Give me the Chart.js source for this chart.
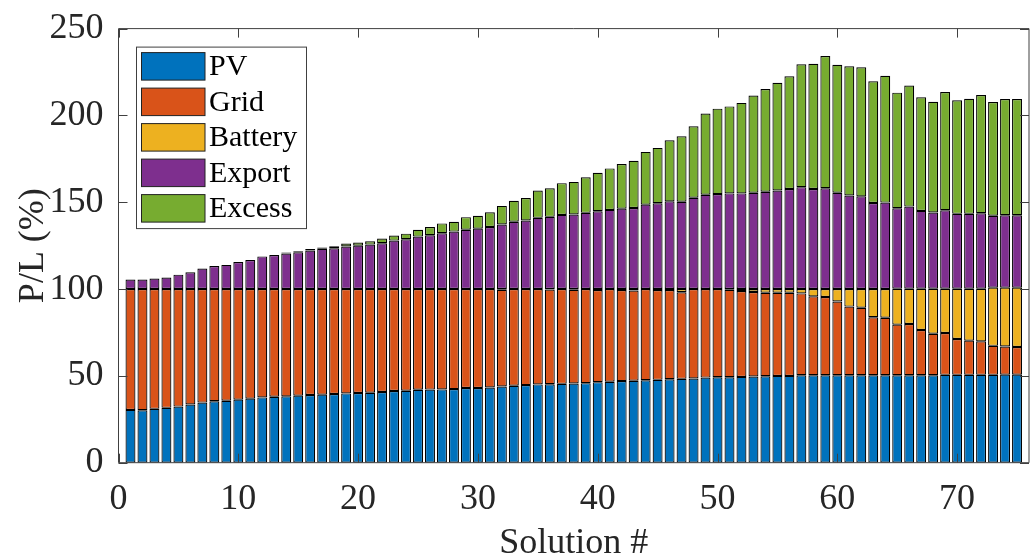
<!DOCTYPE html>
<html>
<head>
<meta charset="utf-8">
<script src="https://cdn.jsdelivr.net/npm/chart.js@4/dist/chart.umd.min.js"></script>
<style>
  html, body { margin: 0; padding: 0; background: #ffffff; }
  #wrap { width: 1032px; height: 556px; }
  canvas { display: block; }
</style>
</head>
<body>
<div id="wrap"><canvas id="chart" width="1032" height="556"></canvas></div>
<script>
// Solution index on the x axis
const solutions = [
  1, 2, 3, 4, 5, 6, 7, 8, 9, 10,
  11, 12, 13, 14, 15, 16, 17, 18, 19, 20,
  21, 22, 23, 24, 25, 26, 27, 28, 29, 30,
  31, 32, 33, 34, 35, 36, 37, 38, 39, 40,
  41, 42, 43, 44, 45, 46, 47, 48, 49, 50,
  51, 52, 53, 54, 55, 56, 57, 58, 59, 60,
  61, 62, 63, 64, 65, 66, 67, 68, 69, 70,
  71, 72, 73, 74, 75
];

// Power share relative to load (%), one value per solution
const pv = [
  30.4, 30.2, 31.0, 31.6, 32.3, 33.5, 34.6, 35.4, 35.7, 36.3,
  36.9, 37.6, 38.0, 38.2, 38.6, 39.0, 39.2, 39.6, 39.9, 40.1,
  40.3, 40.7, 41.3, 41.4, 42.0, 42.1, 42.2, 42.4, 43.0, 43.0,
  43.3, 43.9, 44.3, 44.7, 45.1, 45.2, 45.4, 45.6, 45.8, 46.4,
  46.6, 47.0, 47.2, 47.5, 47.7, 48.1, 48.3, 48.5, 49.0, 49.2,
  49.2, 49.4, 49.6, 49.8, 50.0, 50.0, 50.4, 50.4, 50.4, 50.4,
  50.4, 50.4, 50.4, 50.4, 50.4, 50.4, 50.4, 50.4, 50.6, 50.6,
  50.6, 50.6, 50.6, 50.7, 50.7
];
const grid = [
  69.6, 69.8, 69.0, 68.4, 67.7, 66.5, 65.4, 64.6, 64.3, 63.7,
  63.1, 62.4, 62.0, 61.8, 61.4, 61.0, 60.8, 60.4, 60.1, 59.9,
  59.7, 59.3, 58.7, 58.6, 58.0, 57.9, 57.8, 57.6, 57.0, 57.0,
  56.7, 55.7, 55.7, 55.3, 54.9, 54.5, 54.6, 54.0, 54.2, 53.1,
  53.4, 52.5, 52.0, 52.5, 51.7, 51.4, 49.9, 51.5, 51.0, 50.8,
  50.4, 49.5, 48.7, 48.1, 47.9, 47.9, 47.1, 45.4, 45.0, 42.4,
  39.5, 38.8, 33.4, 33.1, 29.1, 29.5, 26.0, 23.9, 24.1, 20.6,
  19.7, 19.3, 16.7, 16.2, 15.9
];
const battery = [
  0, 0, 0, 0, 0, 0, 0, 0, 0, 0,
  0, 0, 0, 0, 0, 0, 0, 0, 0, 0,
  0, 0, 0, 0, 0, 0, 0, 0, 0, 0,
  0, 0.4, 0, 0, 0, 0.3, 0, 0.4, 0, 0.5,
  0, 0.5, 0.8, 0, 0.6, 0.5, 1.8, 0, 0, 0,
  0.4, 1.1, 1.7, 2.1, 2.1, 2.1, 2.5, 4.2, 4.6, 7.2,
  10.1, 10.8, 16.2, 16.5, 20.7, 20.3, 23.8, 25.9, 25.5, 29.0,
  29.9, 30.3, 33.5, 33.9, 34.2
];
const exportShare = [
  5.5, 5.5, 6.1, 6.6, 8.3, 9.7, 11.8, 13.3, 13.9, 15.6,
  16.7, 18.8, 19.6, 20.5, 21.2, 22.2, 23.2, 23.5, 24.5, 25.0,
  25.6, 26.4, 27.9, 28.7, 30.2, 31.0, 32.1, 33.1, 34.2, 34.8,
  35.7, 37.2, 38.8, 39.5, 41.0, 41.6, 42.7, 42.9, 43.9, 44.8,
  45.6, 46.3, 46.7, 48.6, 49.4, 50.5, 50.3, 52.6, 54.3, 54.7,
  55.1, 55.1, 55.5, 56.0, 56.8, 57.6, 58.7, 57.6, 58.1, 55.5,
  53.9, 53.4, 49.6, 49.8, 46.3, 47.3, 44.8, 43.9, 45.2, 43.1,
  43.1, 43.5, 41.4, 41.7, 41.7
];
const excess = [
  0, 0, 0, 0, 0, 0, 0, 0, 0, 0,
  0, 0, 0, 0.5, 0.6, 0.8, 0.8, 1.2, 1.7, 1.8,
  1.9, 2.7, 2.9, 3.2, 4.0, 4.7, 5.7, 5.7, 7.2, 7.4,
  8.5, 10.7, 12.1, 12.9, 15.8, 16.5, 18.3, 18.8, 20.5, 22.2,
  23.9, 25.7, 27.2, 30.4, 31.9, 35.2, 37.7, 41.1, 46.8, 49.2,
  50.1, 52.1, 56.0, 59.2, 62.0, 65.0, 70.7, 72.2, 76.1, 73.7,
  74.4, 74.3, 70.1, 73.0, 66.6, 69.7, 65.4, 63.8, 68.1, 65.4,
  66.3, 68.0, 65.5, 66.9, 66.9
];

const seriesNames = ['PV', 'Grid', 'Battery', 'Export', 'Excess'];
const seriesColors = ['#0072BD', '#D95319', '#EDB120', '#7E2F8E', '#77AC30'];
const xTickValues = [0, 10, 20, 30, 40, 50, 60, 70];
const yTickValues = [0, 50, 100, 150, 200, 250];

const FONT = '"Liberation Serif", "Times New Roman", serif';
const AXIS_COLOR = '#404040';

const seriesValues = [pv, grid, battery, exportShare, excess];
const datasets = seriesNames.map((name, k) => ({
  label: name,
  data: solutions.map((s, i) => ({ x: s, y: seriesValues[k][i] })),
  backgroundColor: seriesColors[k],
  borderColor: '#000000',
  borderWidth: 1.2,
  borderSkipped: false,
  inflateAmount: 0,
  categoryPercentage: 1.0,
  barPercentage: 0.83
}));

// Box outline plus inward tick marks on all four sides
const axesBox = {
  id: 'axesBox',
  afterDatasetsDraw(chart) {
    const { ctx, chartArea: a, scales: { x, y } } = chart;
    const len = 9;
    ctx.save();
    ctx.strokeStyle = AXIS_COLOR;
    ctx.lineWidth = 1;
    ctx.beginPath();
    ctx.rect(a.left, a.top, a.right - a.left, a.bottom - a.top);
    x.ticks.forEach(t => {
      const px = Math.round(x.getPixelForValue(t.value)) + 0.5;
      ctx.moveTo(px, a.bottom); ctx.lineTo(px, a.bottom - len);
      ctx.moveTo(px, a.top); ctx.lineTo(px, a.top + len);
    });
    y.ticks.forEach(t => {
      const py = Math.round(y.getPixelForValue(t.value)) + 0.5;
      ctx.moveTo(a.left, py); ctx.lineTo(a.left + len, py);
      ctx.moveTo(a.right, py); ctx.lineTo(a.right - len, py);
    });
    ctx.stroke();
    ctx.restore();
  }
};

// Legend box in the upper-left corner of the plot
const boxLegend = {
  id: 'boxLegend',
  afterDraw(chart) {
    const { ctx, chartArea: a } = chart;
    const left = a.left + 17.5, top = a.top + 18;
    const w = 170, rowH = 35.5;
    const sets = chart.data.datasets;
    const h = rowH * sets.length + 4;
    ctx.save();
    ctx.fillStyle = '#ffffff';
    ctx.fillRect(left, top, w, h);
    ctx.strokeStyle = AXIS_COLOR;
    ctx.lineWidth = 1;
    ctx.strokeRect(left + 0.5, top + 0.5, w, h);
    ctx.font = '30px ' + FONT;
    ctx.textBaseline = 'middle';
    ctx.textAlign = 'left';
    sets.forEach((ds, i) => {
      const sy = top + 6 + i * rowH;
      ctx.fillStyle = ds.backgroundColor;
      ctx.fillRect(left + 5.5, sy, 63.5, 27.5);
      ctx.strokeStyle = '#222';
      ctx.strokeRect(left + 5.5, sy, 63.5, 27.5);
      ctx.fillStyle = '#000000';
      ctx.fillText(ds.label, left + 73, sy + 15);
    });
    ctx.restore();
  }
};

new Chart(document.getElementById('chart'), {
  type: 'bar',
  data: { datasets },
  options: {
    responsive: false,
    animation: false,
    devicePixelRatio: 1,
    layout: { padding: { left: 0, right: 3, top: 24, bottom: 0 } },
    plugins: { legend: { display: false }, tooltip: { enabled: false } },
    scales: {
      x: {
        type: 'linear',
        stacked: true,
        min: 0,
        max: 76,
        offset: false,
        grid: { display: false },
        border: { display: false },
        afterBuildTicks: s => { s.ticks = xTickValues.map(v => ({ value: v })); },
        afterFit: s => { s.height = 93.3; },
        ticks: { font: { family: FONT, size: 36 }, color: '#262626', padding: 7, maxRotation: 0 },
        title: { display: true, text: 'Solution #', font: { family: FONT, size: 36 }, color: '#262626', padding: { top: 0, bottom: -9 } }
      },
      y: {
        stacked: true,
        min: 0,
        max: 250,
        grid: { display: false },
        border: { display: false },
        afterBuildTicks: s => { s.ticks = yTickValues.map(v => ({ value: v })); },
        afterFit: s => { s.width = 118.5; },
        ticks: { font: { family: FONT, size: 36 }, color: '#262626', padding: 7 },
        title: { display: true, text: 'P/L (%)', font: { family: FONT, size: 36 }, color: '#262626', padding: { top: 12, bottom: 0 } }
      }
    }
  },
  plugins: [axesBox, boxLegend]
});
</script>
</body>
</html>
